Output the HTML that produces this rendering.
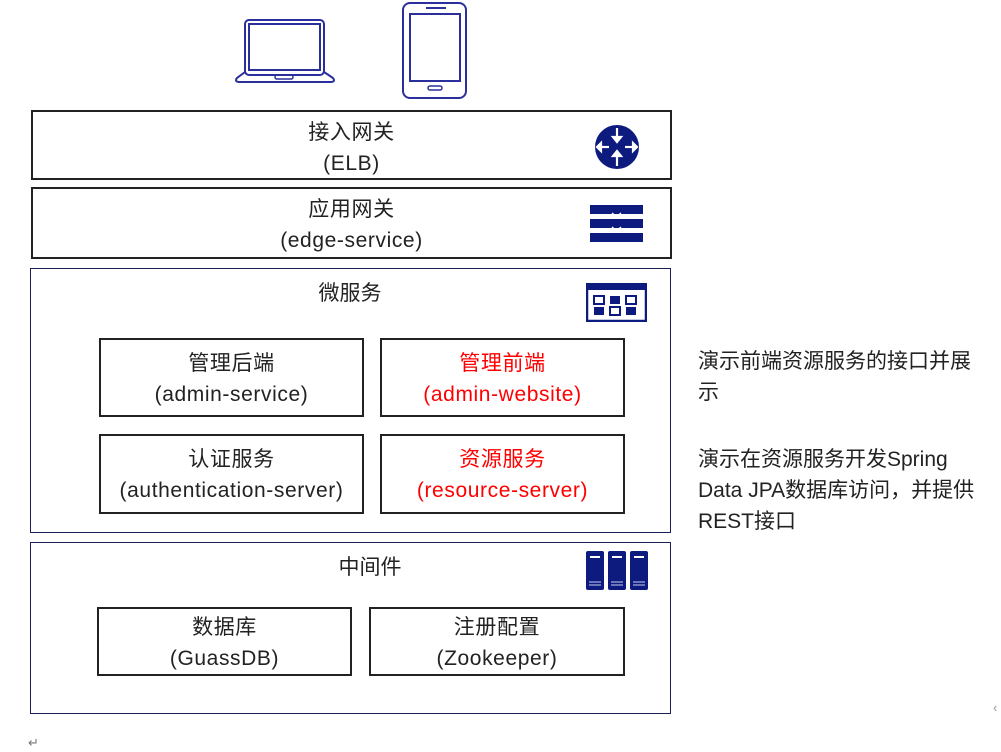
<!DOCTYPE html>
<html><head><meta charset="utf-8"><style>
body{margin:0;width:1001px;height:752px;background:#fff;position:relative;overflow:hidden;font-family:"Liberation Sans","Noto Sans CJK SC",sans-serif;font-size:21px;color:#222}
.b{position:absolute;box-sizing:border-box;border:2px solid #222;text-align:center;line-height:31px;letter-spacing:0.6px}
.o{position:absolute;box-sizing:border-box;border:1.5px solid #1a1f4f}
.t{position:absolute;text-align:center;line-height:31px}
.r{color:#f00}
svg{position:absolute}
</style></head><body>
<svg style="left:230px;top:0" width="250" height="102" viewBox="230 0 250 102">
<rect x="245" y="20" width="79" height="55" rx="4" fill="none" stroke="#2b2f9e" stroke-width="2"/>
<rect x="249" y="24" width="71" height="46" fill="none" stroke="#2b2f9e" stroke-width="2"/>
<path d="M245 72 L237 78 Q234 82 240 82 L330 82 Q336 82 333 78 L324 72" fill="none" stroke="#2b2f9e" stroke-width="2"/>
<rect x="275" y="75" width="18" height="4" rx="2" fill="none" stroke="#2b2f9e" stroke-width="1.5"/>
<rect x="403" y="3" width="63" height="95" rx="7" fill="none" stroke="#2b2f9e" stroke-width="2"/>
<rect x="410" y="14" width="50" height="67" fill="none" stroke="#2b2f9e" stroke-width="2"/>
<line x1="426" y1="8" x2="446" y2="8" stroke="#2b2f9e" stroke-width="2"/>
<rect x="428" y="86" width="14" height="4" rx="2" fill="none" stroke="#2b2f9e" stroke-width="1.5"/>
</svg>

<div class="b" style="left:31px;top:110px;width:641px;height:70px;padding-top:5px">接入网关<br>(ELB)</div>
<svg style="left:594px;top:124px" width="46" height="46" viewBox="0 0 46 46">
<circle cx="23" cy="23" r="22" fill="#0d1a7e"/>
<g stroke="#fff" stroke-width="2.2" fill="#fff">
<line x1="23" y1="4" x2="23" y2="15"/><polygon points="19,13 27,13 23,18"/>
<line x1="23" y1="42" x2="23" y2="31"/><polygon points="19,32 27,32 23,27"/>
<line x1="5" y1="23" x2="15" y2="23"/><polygon points="7,19 7,27 3,23"/>
<line x1="41" y1="23" x2="31" y2="23"/><polygon points="39,19 39,27 43,23"/>
</g></svg>

<div class="b" style="left:31px;top:187px;width:641px;height:72px;padding-top:5px">应用网关<br>(edge-service)</div>
<svg style="left:590px;top:205px" width="53" height="37" viewBox="0 0 53 37">
<rect x="0" y="0" width="53" height="9" fill="#0d1a7e"/>
<rect x="0" y="14" width="53" height="9" fill="#0d1a7e"/>
<rect x="0" y="28" width="53" height="9" fill="#0d1a7e"/>
<path d="M22 8 L26.5 12 L31 8 M22 22 L26.5 26 L31 22" stroke="#fff" stroke-width="1.5" fill="none"/>
</svg>

<div class="o" style="left:30px;top:268px;width:641px;height:265px"></div>
<div class="t" style="left:250px;top:278px;width:200px">微服务</div>
<svg style="left:586px;top:283px" width="61" height="39" viewBox="0 0 61 39">
<rect x="1" y="1" width="59" height="37" fill="#fff" stroke="#0d1a7e" stroke-width="2.5"/>
<rect x="1" y="1" width="59" height="6" fill="#0d1a7e"/>
<rect x="8" y="13" width="10" height="8" fill="none" stroke="#0d1a7e" stroke-width="2"/>
<rect x="8" y="24" width="10" height="8" fill="#0d1a7e"/>
<rect x="24" y="13" width="10" height="8" fill="#0d1a7e"/>
<rect x="24" y="24" width="10" height="8" fill="none" stroke="#0d1a7e" stroke-width="2"/>
<path d="M40 13 H50 V21 H40 Z" fill="none" stroke="#0d1a7e" stroke-width="2"/>
<rect x="40" y="24" width="10" height="8" fill="#0d1a7e"/>
</svg>
<div class="b" style="left:99px;top:338px;width:265px;height:79px;padding-top:8px">管理后端<br>(admin-service)</div>
<div class="b r" style="left:380px;top:338px;width:245px;height:79px;padding-top:8px">管理前端<br>(admin-website)</div>
<div class="b" style="left:99px;top:434px;width:265px;height:80px;padding-top:8px">认证服务<br>(authentication-server)</div>
<div class="b r" style="left:380px;top:434px;width:245px;height:80px;padding-top:8px">资源服务<br>(resource-server)</div>

<div class="o" style="left:30px;top:542px;width:641px;height:172px"></div>
<div class="t" style="left:270px;top:552px;width:200px">中间件</div>
<svg style="left:585px;top:550px" width="64" height="41" viewBox="0 0 64 41">
<g fill="#0d1a7e"><rect x="1" y="1" width="18" height="39" rx="2"/><rect x="23" y="1" width="18" height="39" rx="2"/><rect x="45" y="1" width="18" height="39" rx="2"/></g>
<g stroke="#fff" stroke-width="2"><line x1="5" y1="7" x2="15" y2="7"/><line x1="27" y1="7" x2="37" y2="7"/><line x1="49" y1="7" x2="59" y2="7"/></g>
<g stroke="#8a93c8" stroke-width="1.5"><line x1="4" y1="32" x2="16" y2="32"/><line x1="4" y1="35" x2="16" y2="35"/><line x1="26" y1="32" x2="38" y2="32"/><line x1="26" y1="35" x2="38" y2="35"/><line x1="48" y1="32" x2="60" y2="32"/><line x1="48" y1="35" x2="60" y2="35"/></g>
</svg>
<div class="b" style="left:97px;top:607px;width:255px;height:69px;padding-top:3px">数据库<br>(GuassDB)</div>
<div class="b" style="left:369px;top:607px;width:256px;height:69px;padding-top:3px">注册配置<br>(Zookeeper)</div>

<div style="position:absolute;left:698px;top:346px;width:303px;line-height:31px">演示前端资源服务的接口并展<br>示</div>
<div style="position:absolute;left:698px;top:444px;width:303px;line-height:31px">演示在资源服务开发Spring<br>Data JPA数据库访问，并提供<br>REST接口</div>
<div style="position:absolute;left:28px;top:735px;font-size:13px;color:#777">↵</div>
<div style="position:absolute;left:993px;top:700px;font-size:13px;color:#999">‹</div>
</body></html>
